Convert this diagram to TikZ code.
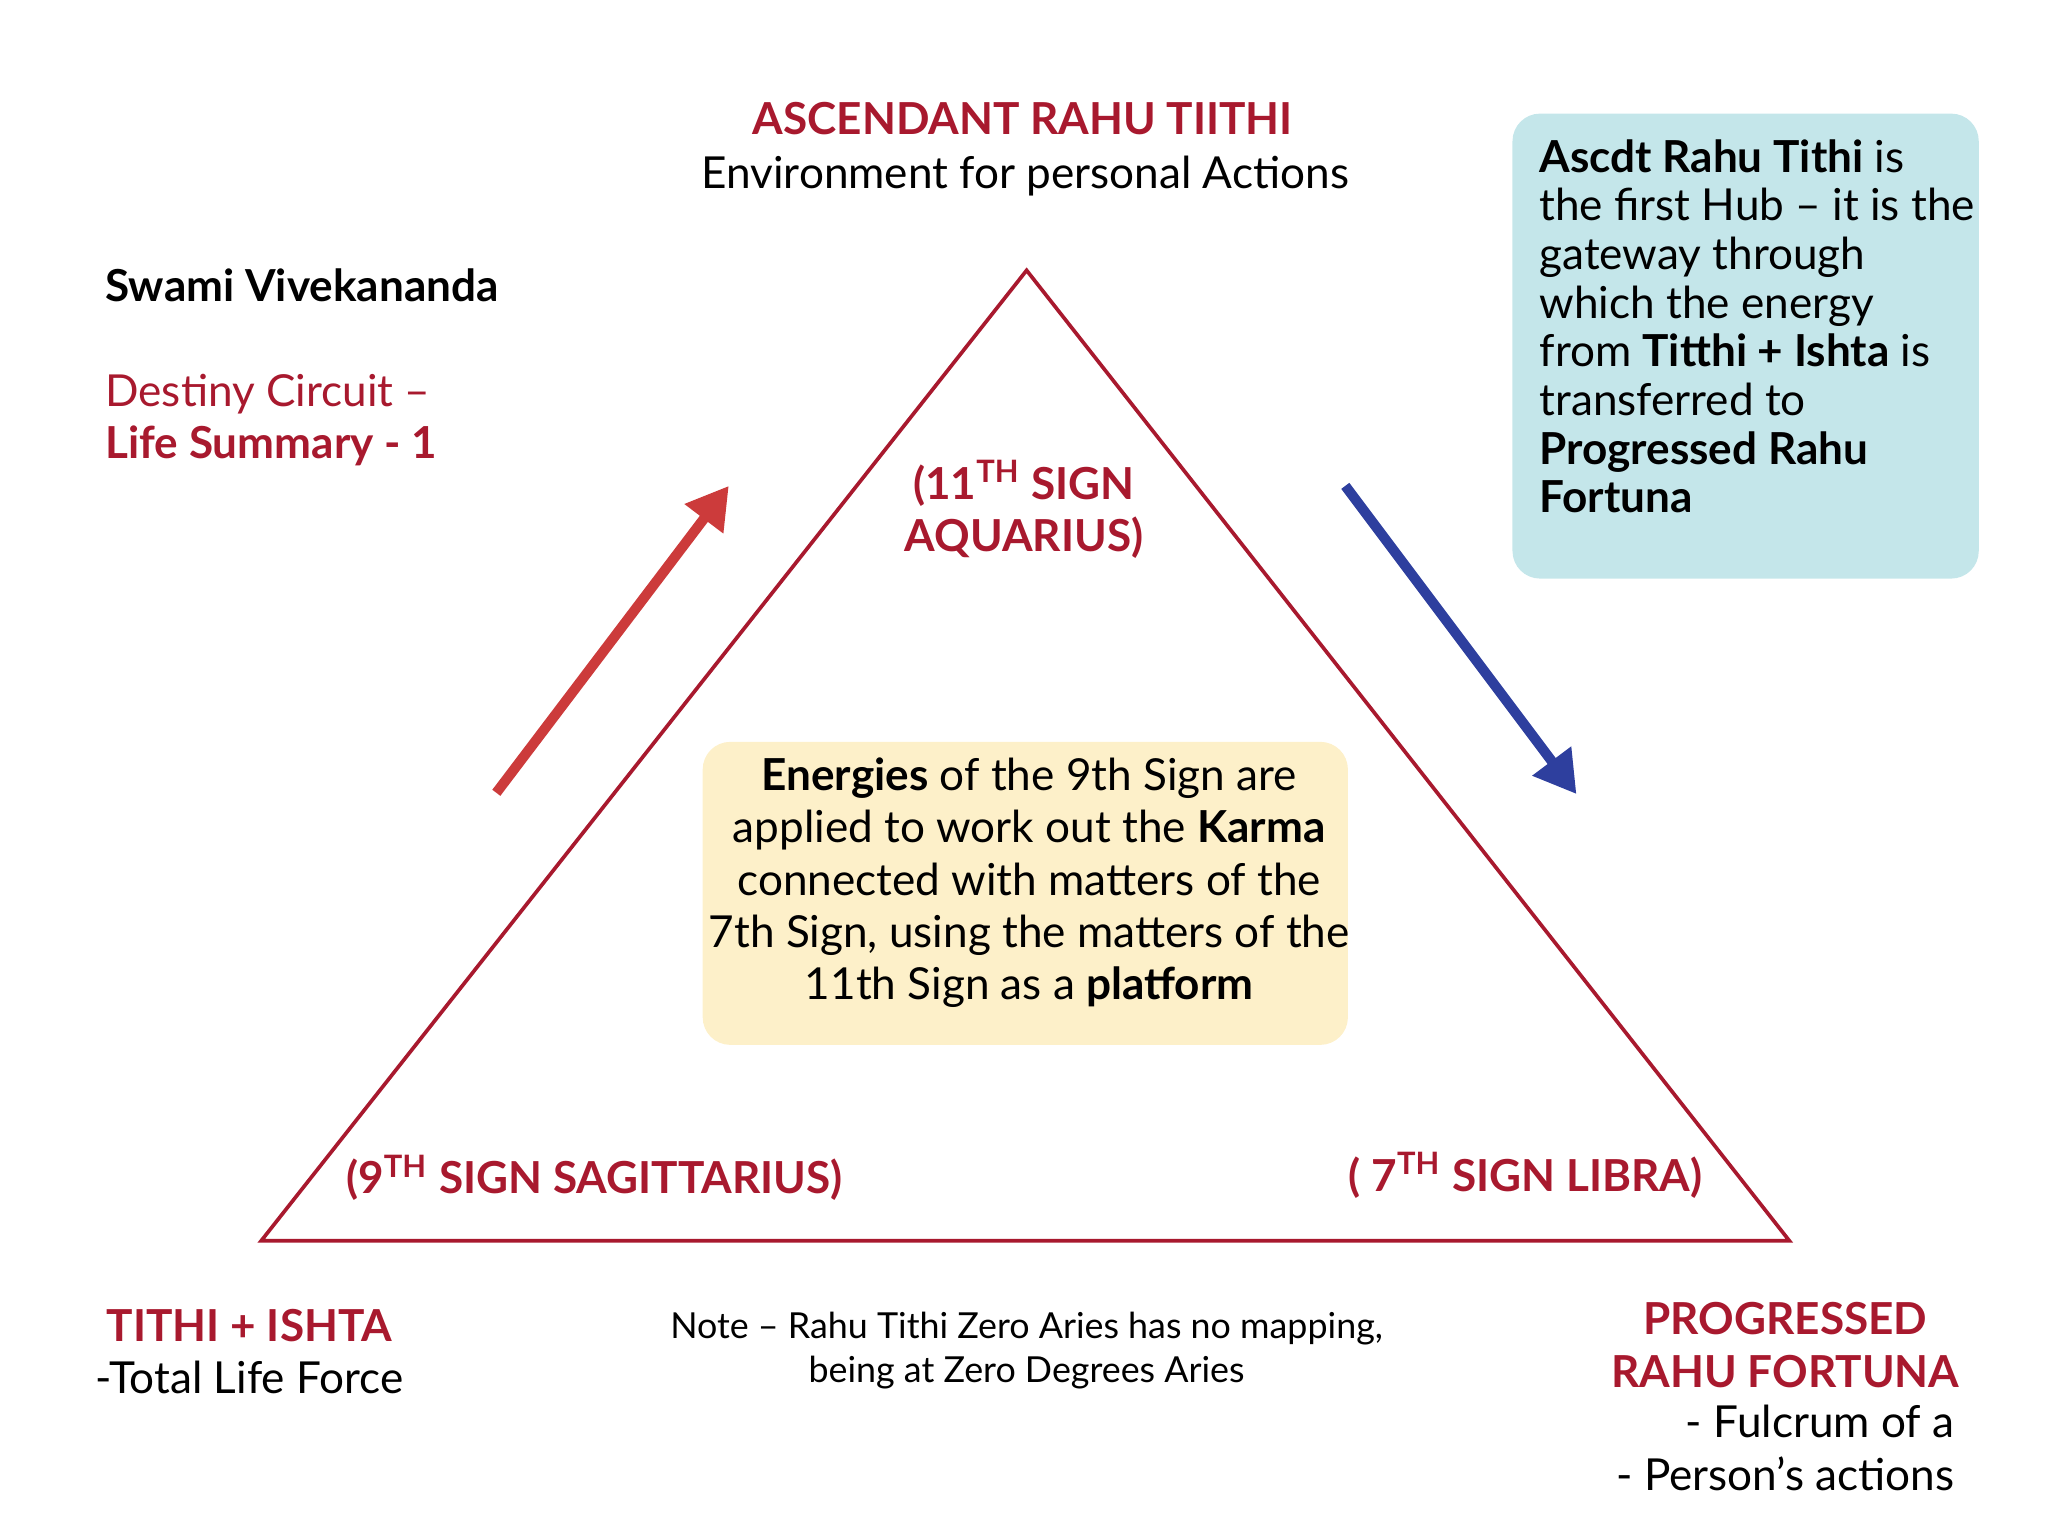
\documentclass[tikz,border=0pt]{standalone}
\usepackage{fontspec}
\setmainfont{Lato}
\usetikzlibrary{arrows.meta}
\definecolor{dred}{HTML}{A8192E}
\definecolor{cyanbox}{HTML}{C4E6EA}
\definecolor{yelbox}{HTML}{FDF0C9}
\definecolor{arrred}{HTML}{CC3B3B}
\definecolor{arrblue}{HTML}{2E3F9E}
\tikzset{
 every node/.style={inner sep=0pt},
 red/.style={text=dred,font=\fontsize{9.6}{11.5}\selectfont\bfseries},
 body/.style={font=\fontsize{9.6}{11.5}\selectfont},
 big/.style={line width=2.2pt,-{Triangle[length=9pt,width=10pt]}}
}
\begin{document}
\begin{tikzpicture}[x=0.01cm,y=-0.01cm]
\useasboundingbox (0,0) rectangle (1568,1171);
\coordinate (A) at (786,207);
\coordinate (B) at (200,950);
\coordinate (C) at (1370,950);
\draw[dred,line width=0.8pt] (A) -- (C) -- (B) -- cycle;
\node[red,anchor=base] (t1) at (783,103) {ASCENDANT RAHU TIITHI};
\node[body,anchor=base] (t2) at (785,144) {Environment for personal Actions};
\node[body,anchor=base west,font=\fontsize{9.6}{12}\selectfont\bfseries] (sv) at (80,231) {Swami Vivekananda};
\node[body,anchor=base west,text=dred] (dc) at (80,311) {Destiny Circuit –};
\node[red,anchor=base west] (ls) at (80,351) {Life Summary - 1};
\fill[cyanbox,rounded corners=6pt] (1158,87) rectangle (1515,443);
\node[anchor=north west,align=left,font=\fontsize{9.6}{10.6}\selectfont] (cb) at (1178,106)
{\textbf{Ascdt Rahu Tithi} is\\the first Hub – it is the\\gateway through\\which the energy\\from \textbf{Titthi + Ishta} is\\transferred to\\\textbf{Progressed Rahu}\\\textbf{Fortuna}};
\node[red,align=center,font=\fontsize{9.6}{11.4}\selectfont\bfseries] (s11) at (784,390) {(11\textsuperscript{TH} SIGN\\AQUARIUS)};
\fill[yelbox,rounded corners=6pt] (538,568) rectangle (1032,800);
\node[align=center,font=\fontsize{9.6}{11.4}\selectfont] (yb) at (788,676)
{\textbf{Energies} of the 9th Sign are\\applied to work out the \textbf{Karma}\\connected with matters of the\\7th Sign, using the matters of the\\11th Sign as a \textbf{platform}};
\coordinate (r1) at (380,607); \coordinate (r2) at (558,372);
\draw[big,arrred] (r1) -- (r2);
\coordinate (b1) at (1030,372); \coordinate (b2) at (1207,608);
\draw[big,arrblue] (b1) -- (b2);
\node[red,anchor=base] (s9) at (455,914) {(9\textsuperscript{TH} SIGN SAGITTARIUS)};
\node[red,anchor=base] (s7) at (1168,912) {( 7\textsuperscript{TH} SIGN LIBRA)};
\node[red,anchor=base] (ti) at (191,1027) {TITHI + ISHTA};
\node[body,anchor=base] (tl) at (191,1067) {-Total Life Force};
\node[align=center,font=\fontsize{7.8}{9.4}\selectfont] (note) at (786,1034) {Note – Rahu Tithi Zero Aries has no mapping,\\being at Zero Degrees Aries};
\node[red,align=center,font=\fontsize{9.6}{11.5}\selectfont\bfseries] (pr) at (1367,1030) {PROGRESSED\\RAHU FORTUNA};
\node[align=right,anchor=north east,font=\fontsize{9.6}{11.5}\selectfont] (fu) at (1497,1075) {- Fulcrum of a\\- Person’s actions};
\end{tikzpicture}
\end{document}
